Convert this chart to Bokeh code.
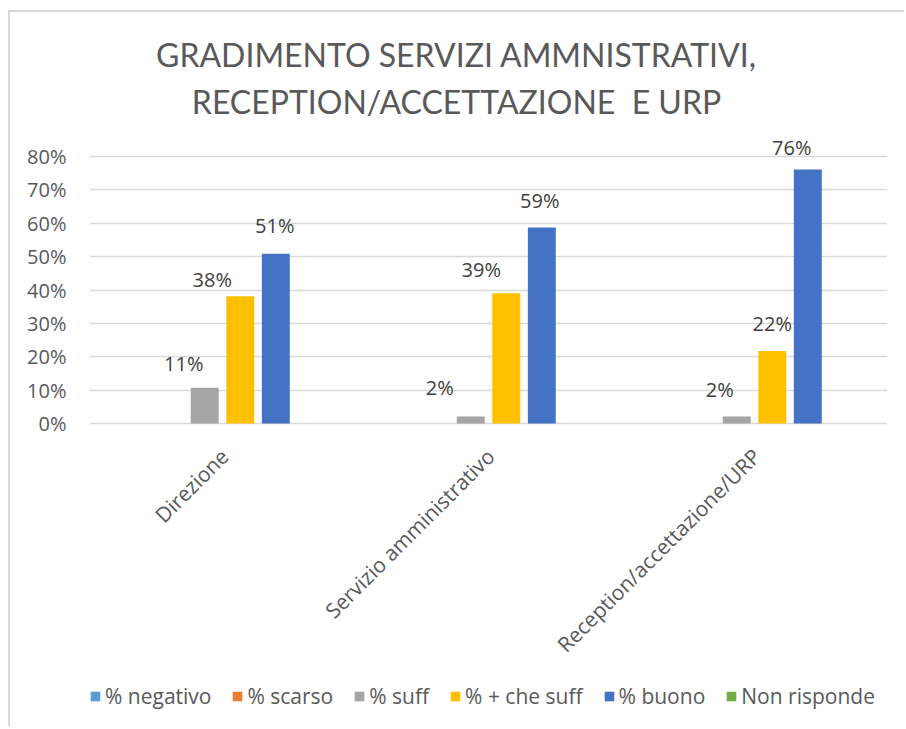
from bokeh.plotting import figure
from bokeh.models import (ColumnDataSource, FactorRange, Range1d, FixedTicker,
                          NumeralTickFormatter, Legend, LegendItem, Label)
from bokeh.transform import dodge
from bokeh.core.properties import value
from bokeh.embed import file_html
from bokeh.resources import INLINE
from math import pi

# ---------------- data ----------------
categories = ["Direzione", "Servizio amministrativo", "Reception/accettazione/URP"]
series_names = ["% negativo", "% scarso", "% suff", "% + che suff", "% buono", "Non risponde"]
pct_negativo = [0.0, 0.0, 0.0]
pct_scarso = [0.0, 0.0, 0.0]
pct_suff = [0.107, 0.021, 0.021]
pct_piu_che_suff = [0.381, 0.390, 0.217]
pct_buono = [0.509, 0.587, 0.761]
pct_non_risponde = [0.0, 0.0, 0.0]
y_ticks = [0.0, 0.1, 0.2, 0.3, 0.4, 0.5, 0.6, 0.7, 0.8]
title_line1 = "GRADIMENTO SERVIZI AMMNISTRATIVI,"
title_line2 = "RECEPTION/ACCETTAZIONE\u00a0 E URP"

# ---------------- style ----------------
colors = ["#5B9BD5", "#ED7D31", "#A5A5A5", "#FFC000", "#4472C4", "#70AD47"]
slot = 0.1336
bar_w = 0.105
# manual nudges of data labels (px): horizontal shift, gap above the bar
label_dx = {2: [-21, -31, -17], 3: [-28, -25, 0], 4: [-1, -2, -16]}
label_gap = {2: [15, 20, 18], 3: [8, 15, 19], 4: [19, 18, 13]}
FONT = "Open Sans"
TXT = "#595959"

all_values = [pct_negativo, pct_scarso, pct_suff, pct_piu_che_suff, pct_buono, pct_non_risponde]

# plot frame spans the whole height of the canvas; the y range is widened so that
# 0..80% sits where the reference draws it and title / legend fit inside the frame
p = figure(x_range=FactorRange(*categories), y_range=Range1d(-0.9139, 1.2315),
           width=896, height=716, output_backend="svg", toolbar_location=None,
           min_border_left=79, min_border_right=19, min_border_top=0,
           min_border_bottom=0)
p.styles = {"border-top": "2px solid #d9d9d9", "border-left": "2px solid #d9d9d9",
            "margin-top": "10px", "margin-left": "8px"}
p.outline_line_color = None
p.background_fill_color = "white"
p.border_fill_color = "white"

p.xgrid.grid_line_color = None
p.ygrid.grid_line_color = "#d9d9d9"
p.ygrid.grid_line_width = 1.5
p.ygrid.ticker = FixedTicker(ticks=y_ticks)

p.yaxis.ticker = FixedTicker(ticks=y_ticks)
p.yaxis.formatter = NumeralTickFormatter(format="0%")
p.yaxis.axis_line_color = None
p.yaxis.major_tick_line_color = None
p.yaxis.minor_tick_line_color = None
p.yaxis.major_label_standoff = 17
p.yaxis.major_label_text_font = FONT
p.yaxis.major_label_text_font_size = "20px"
p.yaxis.major_label_text_color = TXT

p.xaxis.visible = False

# category labels, rotated, hanging below the 0% line
csrc = ColumnDataSource(dict(cat=categories, y0=[0.0] * len(categories)))
p.text(x="cat", y="y0", text="cat", source=csrc, angle=pi / 4,
       x_offset=2, y_offset=29, text_align="right", text_baseline="middle",
       text_font=value(FONT), text_font_size="21px", text_color=TXT)

items = []
for i, (name, vals) in enumerate(zip(series_names, all_values)):
    off = (i - 2.5) * slot
    src = ColumnDataSource(dict(cat=categories, val=vals))
    r = p.vbar(x=dodge("cat", off, range=p.x_range), top="val", width=bar_w,
               source=src, fill_color=colors[i], line_color=None)
    items.append(LegendItem(label=name, renderers=[r]))
    if i in label_dx:
        lsrc = ColumnDataSource(dict(cat=categories, val=vals,
                                     lbl=[f"{v * 100:.0f}%" for v in vals],
                                     dx=label_dx[i], dy=[-(g + 9) for g in label_gap[i]]))
        p.text(x=dodge("cat", off, range=p.x_range), y="val", text="lbl",
               x_offset="dx", y_offset="dy", source=lsrc,
               text_align="center", text_baseline="alphabetic",
               text_font=value(FONT), text_font_size="20px", text_color="#404040")

legend = Legend(items=items, orientation="horizontal", location=(0, 18),
                glyph_width=12, glyph_height=12, label_standoff=4, spacing=20,
                padding=0, margin=0, border_line_color=None,
                background_fill_alpha=0, label_text_font=FONT,
                label_text_font_size="21px", label_text_color=TXT)
p.add_layout(legend)

for txt, yy in [(title_line1, 674), (title_line2, 627)]:
    p.add_layout(Label(x=367, y=yy, x_units="screen", y_units="screen", text=txt,
                       text_align="center", text_baseline="middle",
                       text_font="Lato", text_font_size="32px", text_color=TXT))

open("out.html", "w").write(file_html(p, INLINE))
